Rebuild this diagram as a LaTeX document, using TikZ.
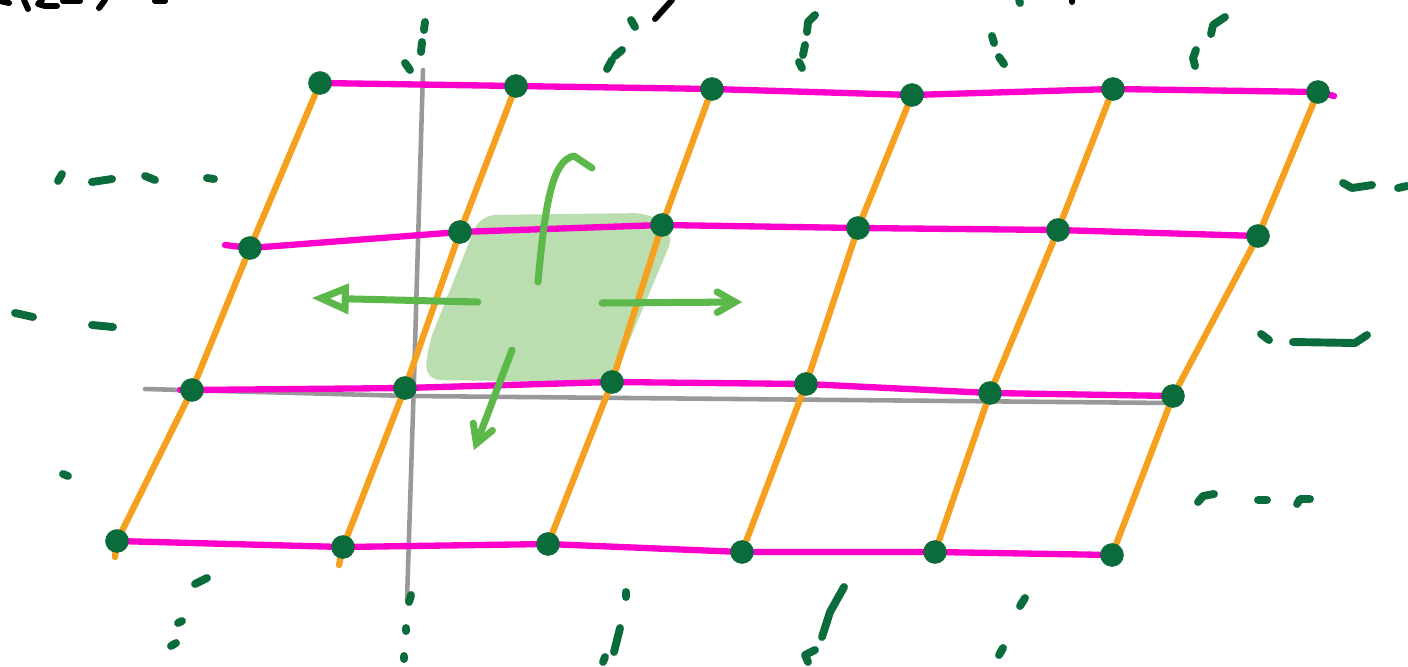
\documentclass[tikz,border=0pt]{standalone}
\usepackage{tkz-euclide}
\usetikzlibrary{arrows,calc}
\definecolor{RowClr}{rgb}{1,0,0.8}
\definecolor{ColClr}{rgb}{0.96,0.63,0.12}
\definecolor{AxisClr}{rgb}{0.6,0.6,0.6}
\definecolor{DotClr}{rgb}{0.04,0.42,0.23}
\definecolor{CellClr}{rgb}{0.73,0.87,0.69}
\definecolor{ArrowClr}{rgb}{0.36,0.72,0.29}

\begin{document}
\begin{tikzpicture}[x=0.02cm,y=-0.02cm,line cap=round,line join=round,
  trail/.style={DotClr,line width=4.5pt},
  scrawl/.style={black,line width=3.4pt}]
\useasboundingbox (0,0) rectangle (1408,666);
\tkzSetUpPoint[fill=DotClr,color=DotClr]

% lattice points, row by row
\tkzDefPoints{320/83/A0,516/86/A1,712/89/A2,912/95/A3,1113/89/A4,1318/92/A5,1334/96/Ae}
\tkzDefPoints{225/245/Bs,250/248/B0,460/232/B1,662/225/B2,858/228/B3,1058/230/B4,1258/236/B5}
\tkzDefPoints{180/390/Cs,192/390/C0,405/388/C1,612/382/C2,806/384/C3,990/393/C4,1173/396/C5}
\tkzDefPoints{117/541/D0,343/547/D1,548/544/D2,742/552/D3,935/552/D4,1112/555/D5}
\tkzDefPoints{115/557/E0,339/565/E1}

% axes
\tkzDefPoints{145/389/G0,410/396/G1,1170/403/G2,423/70/V0,414/380/V1,407/600/V2}

% shaded cell
\tkzDefPoints{480/215/S1,650/213/S2,675/232/S3,612/382/S4,425/380/S5,428/345/S6}

% arrows out of the cell
\tkzDefPoints{538/282/U0,545/205/Ua,552/160/Ub,574/156/U1,592/168/U2}
\tkzDefPoints{478/302/L0,312/298/L1,602/303/R0,742/302/R1,512/350/W0,474/450/W1}

\fill[CellClr,rounded corners=9pt] (S1)--(S2)--(S3)--(S4)--(S5)--(S6)--cycle;

\tkzSetUpLine[line width=2.6pt,color=AxisClr]
\tkzDrawPolySeg(G0,G1,G2)
\tkzDrawPolySeg(V0,V1,V2)

\tkzSetUpLine[line width=3.6pt,color=ColClr]
\tkzDrawPolySeg(A0,B0,C0,D0,E0)
\tkzDrawPolySeg(A1,B1,C1,D1,E1)
\tkzDrawPolySeg(A2,B2,C2,D2)
\tkzDrawPolySeg(A3,B3,C3,D3)
\tkzDrawPolySeg(A4,B4,C4,D4)
\tkzDrawPolySeg(A5,B5,C5,D5)

\tkzSetUpLine[line width=3.6pt,color=RowClr]
\tkzDrawPolySeg(A0,A1,A2,A3,A4,A5,Ae)
\tkzDrawPolySeg(Bs,B0,B1,B2,B3,B4,B5)
\tkzDrawPolySeg(Cs,C0,C1,C2,C3,C4,C5)
\tkzDrawPolySeg(D0,D1,D2,D3,D4,D5)

\tkzDrawPoints[size=13](A0,A1,A2,A3,A4,A5)
\tkzDrawPoints[size=13](B0,B1,B2,B3,B4,B5)
\tkzDrawPoints[size=13](C0,C1,C2,C3,C4,C5)
\tkzDrawPoints[size=13](D0,D1,D2,D3,D4,D5)

\tkzSetUpLine[line width=4pt,color=ArrowClr]
\draw[ArrowClr,line width=4pt] (U0) .. controls (Ua) and (Ub) .. (U1) -- (U2);
\tkzDrawSegment[-open triangle 45](L0,L1)
\tkzDrawSegment[-angle 60](R0,R1)
\tkzDrawSegment[-angle 60](W0,W1)

% the lattice goes on
\draw[trail] (425,22)--(424,30) (422,42)--(421,52) (405,63)--(410,70);
\draw[trail] (631,20)--(635,27) (622,50)--(615,56) (612,60)--(607,69);
\draw[trail] (815,15)--(808,22)--(807,32) (805,45)--(803,55) (799,62)--(802,68);
\draw[trail] (1019,0)--(1020,3) (992,36)--(994,43) (999,57)--(1004,64);
\draw[trail] (1225,17)--(1213,25)--(1211,34) (1196,50)--(1193,58)--(1195,66);
\draw[trail] (62,174)--(58,181) (92,182)--(112,179) (145,176)--(155,180) (207,178)--(214,179);
\draw[trail] (15,313)--(33,317) (92,325)--(113,327) (63,474)--(68,476);
\draw[trail] (1343,183)--(1352,188)--(1372,185) (1398,188)--(1407,186);
\draw[trail] (1261,334)--(1269,340) (1293,342)--(1355,343)--(1367,335);
\draw[trail] (1198,502)--(1203,496)--(1214,494) (1258,500)--(1267,500) (1297,504)--(1300,499)--(1310,499);
\draw[trail] (195,584)--(207,578) (178,623)--(182,621) (171,646)--(176,643);
\draw[trail] (411,595)--(409,602) (406,628)--(406,631) (404,656)--(404,659);
\draw[trail] (626,592)--(626,597) (620,628)--(614,652) (605,657)--(603,662);
\draw[trail] (844,587)--(830,612)--(822,637) (815,650)--(805,655)--(808,662);
\draw[trail] (1025,598)--(1020,606) (1003,648)--(999,655);

% handwriting cut off at the top
\draw[scrawl] (0,1)--(9,3) (24,0)--(28,9) (42,0)--(38,4)--(45,6)--(57,6);
\draw[scrawl] (63,1)--(80,1) (105,0)--(99,8) (155,1)--(165,1);
\draw[scrawl] (672,0)--(655,19) (1072,0)--(1072,2);
\end{tikzpicture}
\end{document}
